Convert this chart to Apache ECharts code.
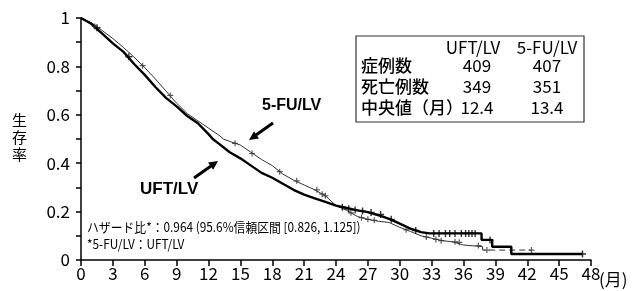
<!DOCTYPE html>
<html>
<head>
<meta charset="utf-8">
<title>生存率</title>
<script src="https://cdn.jsdelivr.net/npm/echarts@6/dist/echarts.min.js"></script>
<style>
  html, body {margin:0;padding:0;background:#fff;}
  #main {width:632px;height:291px;}
</style>
</head>
<body>
<div id="main"></div>
<script>
// UFT/LV (太線) - 後半の階段は同じ時点を2回入れて表す
var uftTime = [0, 1, 2, 3, 4, 5, 6, 7, 8, 9, 10, 11, 12, 12.4, 13, 14, 15, 16, 17, 18, 19, 20, 21, 22, 23, 24, 25, 26, 27, 28, 29, 30, 31, 32, 32.8, 37.7, 37.7, 38.7, 38.7, 40.5, 40.5, 47.2];
var uftSurv = [1.0, 0.975, 0.935, 0.895, 0.86, 0.81, 0.765, 0.715, 0.67, 0.635, 0.595, 0.565, 0.52, 0.50, 0.48, 0.445, 0.42, 0.39, 0.36, 0.34, 0.315, 0.29, 0.27, 0.255, 0.24, 0.225, 0.215, 0.205, 0.198, 0.185, 0.17, 0.15, 0.13, 0.115, 0.11, 0.11, 0.083, 0.083, 0.055, 0.055, 0.025, 0.025];
// 5-FU/LV (細線)
var fuTime = [0, 1, 2, 3, 4, 5, 6, 7, 8, 9, 10, 11, 12, 13, 13.4, 14, 15, 16, 17, 18, 19, 20, 21, 22, 23, 24, 25, 26, 27, 28, 29, 30, 31, 32, 33, 34, 35, 36, 37.8];
var fuSurv = [1.0, 0.98, 0.948, 0.915, 0.878, 0.838, 0.795, 0.748, 0.698, 0.648, 0.605, 0.575, 0.545, 0.515, 0.50, 0.49, 0.475, 0.445, 0.415, 0.39, 0.355, 0.33, 0.31, 0.29, 0.265, 0.225, 0.205, 0.18, 0.168, 0.16, 0.155, 0.135, 0.118, 0.10, 0.09, 0.08, 0.075, 0.062, 0.055];
var fuTailTime = [37.8, 37.8, 42.4];
var fuTailSurv = [0.055, 0.041, 0.041];
// 打ち切り
var uftCensorTime = [1.5, 4.5, 24.6, 25.2, 25.8, 26.5, 27.3, 28.2, 29.2, 31.5, 33.2, 33.7, 34.3, 34.7, 35.2, 35.8, 36.2, 36.5, 36.8, 37.1, 38.5, 47.2];
var uftCensorSurv = [0.96, 0.84, 0.218, 0.212, 0.207, 0.202, 0.196, 0.188, 0.168, 0.122, 0.11, 0.11, 0.11, 0.11, 0.11, 0.11, 0.11, 0.11, 0.11, 0.11, 0.083, 0.025];
var fuCensorTime = [1.3, 5.8, 8.4, 14.5, 16.1, 18.7, 20.3, 22.2, 22.7, 23.0, 25.4, 26.4, 27.0, 27.6, 30.6, 32.5, 33.4, 33.9, 35.2, 35.6, 37.4, 38.2, 42.4];
var fuCensorSurv = [0.965, 0.803, 0.68, 0.482, 0.44, 0.365, 0.327, 0.29, 0.272, 0.265, 0.195, 0.175, 0.168, 0.164, 0.125, 0.095, 0.085, 0.08, 0.075, 0.073, 0.06, 0.041, 0.041];
// 表
var tableHeader = ['UFT/LV', '5-FU/LV'];
var tableRows = ['症例数', '死亡例数', '中央値（月）'];
var uftStats = ['409', '349', '12.4'];
var fuStats = ['407', '351', '13.4'];

function pairs(xs, ys) {
    return xs.map(function (x, i) { return [x, ys[i]]; });
}

var font = '"Noto Sans CJK JP", "Noto Sans", sans-serif';
var plusPath = 'path://M4,0H6V4H10V6H6V10H4V6H0V4H4Z';

var graphics = [
    {type:'text', left:12, top:112, style:{text:'生\n存\n率', font:'15px ' + font, lineHeight:17, fill:'#000'}},
    {type:'text', left:599, top:271, style:{text:'(月)', font:'17px ' + font, fill:'#000'}},
    {type:'text', left:262, top:98, style:{text:'5-FU/LV', font:'bold 16px "Liberation Sans", sans-serif', fill:'#000'}},
    {type:'text', left:140, top:181, style:{text:'UFT/LV', font:'bold 17px "Liberation Sans", sans-serif', fill:'#000'}},
    {type:'line', shape:{x1:273, y1:123, x2:256, y2:135}, style:{stroke:'#000', lineWidth:3}},
    {type:'polygon', shape:{points:[[249,140],[259,138.6],[254,131.2]]}, style:{fill:'#000'}},
    {type:'line', shape:{x1:194, y1:178, x2:211, y2:166}, style:{stroke:'#000', lineWidth:3}},
    {type:'polygon', shape:{points:[[218,161],[213.2,169.8],[208,162.4]]}, style:{fill:'#000'}},
    {type:'text', x:87, y:221, scaleX:0.91, style:{text:'ハザード比*：0.964 (95.6%信頼区間 [0.826, 1.125])', font:'13px ' + font, fill:'#000'}},
    {type:'text', x:87, y:238, scaleX:0.91, style:{text:'*5-FU/LV：UFT/LV', font:'13px ' + font, fill:'#000'}},
    {type:'rect', shape:{x:356, y:36, width:228, height:86}, style:{fill:'#fff', stroke:'#333', lineWidth:1.2}, z:10}
];
graphics.push({type:'text', x:473, y:39, z:11, style:{text:tableHeader[0], font:'17px ' + font, fill:'#000', textAlign:'center'}});
graphics.push({type:'text', x:547, y:39, z:11, style:{text:tableHeader[1], font:'17px ' + font, fill:'#000', textAlign:'center'}});
tableRows.forEach(function (name, i) {
    var y = 57 + i * 21;
    graphics.push({type:'text', x:361, y:y, z:11, style:{text:name, font:'500 17px ' + font, fill:'#000'}});
    graphics.push({type:'text', x:477, y:y, z:11, style:{text:uftStats[i], font:'17px ' + font, fill:'#000', textAlign:'center'}});
    graphics.push({type:'text', x:547, y:y, z:11, style:{text:fuStats[i], font:'17px ' + font, fill:'#000', textAlign:'center'}});
});

var chart = echarts.init(document.getElementById('main'));
chart.setOption({
    animation: false,
    backgroundColor: '#fff',
    textStyle: {fontFamily: font},
    grid: {left:81, right:41, top:18, bottom:31},
    xAxis: {
        type: 'value', min: 0, max: 48, interval: 3,
        axisLine: {lineStyle: {color:'#000', width:1.5}},
        axisTick: {length:6, lineStyle: {color:'#000', width:1.5}},
        axisLabel: {color:'#000', fontSize:17, margin:5},
        splitLine: {show:false}
    },
    yAxis: {
        type: 'value', min: 0, max: 1, interval: 0.2,
        axisLine: {show:true, lineStyle: {color:'#000', width:1.5}},
        axisTick: {show:true, length:5, lineStyle: {color:'#000', width:1.5}},
        minorTick: {show:true, splitNumber:2, length:5, lineStyle: {color:'#000', width:1.5}},
        axisLabel: {color:'#000', fontSize:17, margin:11},
        splitLine: {show:false}
    },
    series: [
        {name:'UFT/LV', type:'line', showSymbol:false, data:pairs(uftTime, uftSurv),
         lineStyle:{color:'#000', width:2.4}, z:3},
        {name:'5-FU/LV', type:'line', showSymbol:false, data:pairs(fuTime, fuSurv),
         lineStyle:{color:'#333', width:1}, z:2},
        {name:'5-FU/LV tail', type:'line', showSymbol:false, data:pairs(fuTailTime, fuTailSurv),
         lineStyle:{color:'#333', width:1, type:[6, 4]}, z:2},
        {name:'UFT/LV 打ち切り', type:'scatter', symbol:plusPath, symbolSize:7, data:pairs(uftCensorTime, uftCensorSurv),
         itemStyle:{color:'#000'}, z:4},
        {name:'5-FU/LV 打ち切り', type:'scatter', symbol:plusPath, symbolSize:6, data:pairs(fuCensorTime, fuCensorSurv),
         itemStyle:{color:'#333'}, z:4}
    ],
    graphic: graphics
});
</script>
</body>
</html>
